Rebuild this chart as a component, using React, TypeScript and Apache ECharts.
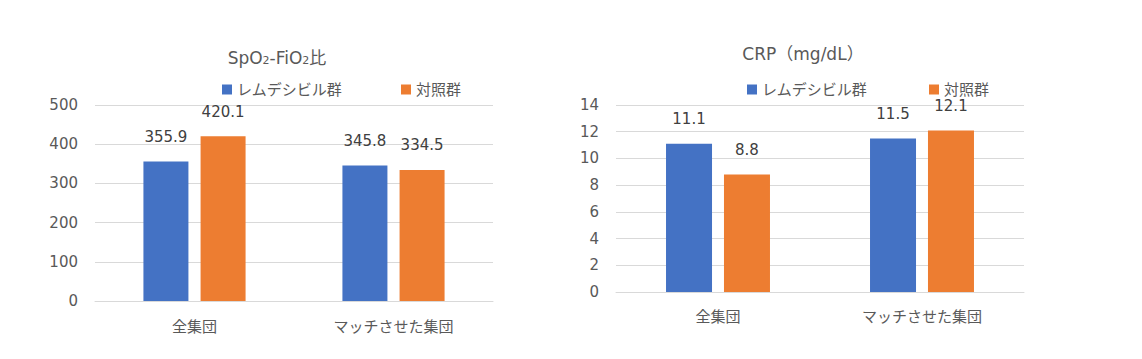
import React, { useEffect, useRef } from "react";
import * as echarts from "echarts";

const categories = ["全集団", "マッチさせた集団"];
const seriesNames = ["レムデシビル群", "対照群"];
const spo2Remdesivir = [355.9, 345.8];
const spo2Control = [420.1, 334.5];
const crpRemdesivir = [11.1, 11.5];
const crpControl = [8.8, 12.1];

const BLUE = "#4472C4";
const ORANGE = "#ED7D31";
const GRID = "#D9D9D9";
const TXT = "#595959";
const FONT = "'DejaVu Sans', 'Noto Sans CJK JP', sans-serif";

export default function App() {
  const ref = useRef<HTMLDivElement>(null);
  useEffect(() => {
    const chart = echarts.init(ref.current!, null, { renderer: "svg" });
    const labelCfg = {
      show: true,
      position: "top",
      distance: 17,
      color: "#404040",
      fontSize: 15,
      fontFamily: FONT,
      formatter: (p: any) => Number(p.value).toFixed(1),
    };
    const legendBase = {
      top: 82,
      padding: 0,
      itemWidth: 10,
      itemHeight: 10,
      icon: "rect",
      textStyle: { color: TXT, fontSize: 15, fontFamily: FONT },
    };
    const xAxisBase = (gi: number, margin: number) => ({
      type: "category",
      gridIndex: gi,
      data: categories,
      axisTick: { show: false },
      axisLine: { lineStyle: { color: GRID, width: 1 } },
      axisLabel: { color: TXT, fontSize: 15, fontFamily: FONT, margin },
    });
    const yAxisBase = (gi: number, max: number, interval: number) => ({
      type: "value",
      gridIndex: gi,
      min: 0,
      max,
      interval,
      axisLine: { show: false },
      axisTick: { show: false },
      splitLine: { lineStyle: { color: GRID, width: 1 } },
      axisLabel: { color: TXT, fontSize: 15, fontFamily: FONT, margin: 17 },
    });
    chart.setOption({
      animation: false,
      textStyle: { fontFamily: FONT },
      title: [
        {
          text: "{n|SpO}{s|2}{n|-FiO}{s|2}{n|比}",
          left: 277,
          top: 46,
          textAlign: "center",
          padding: 0,
          textStyle: {
            fontWeight: "normal",
            rich: {
              n: { fontSize: 17, color: TXT, lineHeight: 20, fontFamily: FONT, fontWeight: "normal", verticalAlign: "bottom" },
              s: { fontSize: 11, color: TXT, lineHeight: 10, fontFamily: FONT, fontWeight: "normal", verticalAlign: "bottom" },
            },
          },
        },
        {
          text: "CRP（mg/dL）",
          left: 803,
          top: 45,
          textAlign: "center",
          padding: 0,
          textStyle: { fontSize: 17, color: TXT, fontWeight: "normal", fontFamily: FONT },
        },
      ],
      legend: [
        { ...legendBase, left: 222, data: [seriesNames[0]] },
        { ...legendBase, left: 401, data: [seriesNames[1]] },
        { ...legendBase, left: 747, data: [seriesNames[0]] },
        { ...legendBase, left: 929, data: [seriesNames[1]] },
      ],
      grid: [
        { left: 95, width: 398, top: 105, height: 196 },
        { left: 616, width: 408, top: 105, height: 187 },
      ],
      xAxis: [xAxisBase(0, 18), xAxisBase(1, 17)],
      yAxis: [yAxisBase(0, 500, 100), yAxisBase(1, 14, 2)],
      series: [
        {
          name: seriesNames[0],
          type: "bar",
          xAxisIndex: 0,
          yAxisIndex: 0,
          data: spo2Remdesivir,
          barWidth: 45,
          barGap: "27%",
          itemStyle: { color: BLUE },
          label: labelCfg,
        },
        {
          name: seriesNames[1],
          type: "bar",
          xAxisIndex: 0,
          yAxisIndex: 0,
          data: spo2Control,
          barWidth: 45,
          barGap: "27%",
          itemStyle: { color: ORANGE },
          label: labelCfg,
        },
        {
          name: seriesNames[0],
          type: "bar",
          xAxisIndex: 1,
          yAxisIndex: 1,
          data: crpRemdesivir,
          barWidth: 46,
          barGap: "26%",
          itemStyle: { color: BLUE },
          label: labelCfg,
        },
        {
          name: seriesNames[1],
          type: "bar",
          xAxisIndex: 1,
          yAxisIndex: 1,
          data: crpControl,
          barWidth: 46,
          barGap: "26%",
          itemStyle: { color: ORANGE },
          label: labelCfg,
        },
      ],
    });
    return () => chart.dispose();
  }, []);
  return (
    <div
      ref={ref}
      style={{ position: "absolute", left: 0, top: 0, width: 1142, height: 359, background: "#fff" }}
    />
  );
}
